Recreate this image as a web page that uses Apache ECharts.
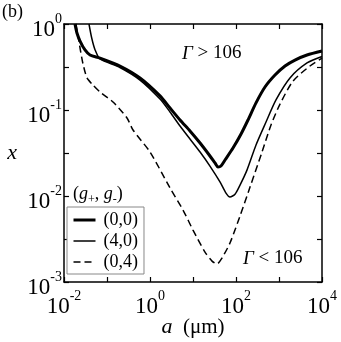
<!DOCTYPE html>
<html>
<head>
<meta charset="utf-8">
<script src="https://cdn.jsdelivr.net/npm/echarts@6/dist/echarts.min.js"></script>
<style>
html, body { margin: 0; padding: 0; background: #fff; }
#main { width: 341px; height: 342px; }
</style>
</head>
<body>
<div id="main"></div>
<script>
// a (um) against x, one pair of arrays per (g+, g-)
var a00 = [0.018, 0.020, 0.0236, 0.0308, 0.0403, 0.0687, 0.200, 0.585, 1.71, 2.92, 4.99, 8.51, 14.6, 24.8, 32.5, 38.1, 44.7, 55.5, 85.1, 131, 190, 292, 472, 807, 1380, 2355, 4480, 10000];
var x00 = [1.0, 0.785, 0.634, 0.499, 0.436, 0.402, 0.325, 0.236, 0.146, 0.1055, 0.0765, 0.057, 0.0413, 0.0292, 0.0242, 0.0217, 0.0223, 0.0262, 0.0361, 0.0526, 0.0765, 0.121, 0.185, 0.255, 0.325, 0.381, 0.436, 0.485];

var a40 = [0.0381, 0.0441, 0.0526, 0.0687, 0.200, 0.585, 1.71, 2.92, 4.99, 8.51, 14.6, 24.8, 42.4, 58.5, 72.4, 94.8, 124, 180, 292, 499, 851, 1800, 4480, 10000];
var x40 = [1.0, 0.687, 0.503, 0.392, 0.312, 0.223, 0.134, 0.0948, 0.0652, 0.046, 0.0325, 0.0223, 0.0146, 0.0108, 0.00973, 0.0105, 0.0134, 0.0200, 0.0392, 0.0725, 0.131, 0.236, 0.352, 0.419];

var a04 = [0.019, 0.0212, 0.0236, 0.0277, 0.0343, 0.0472, 0.0687, 0.138, 0.292, 0.403, 1.0, 2.92, 5.85, 10.0, 19.0, 27.7, 36.1, 47.2, 72.4, 124, 212, 403, 652, 1055, 2120, 5260, 10000];
var x04 = [1.0, 0.725, 0.526, 0.343, 0.236, 0.195, 0.162, 0.124, 0.0807, 0.0585, 0.0325, 0.0124, 0.00687, 0.00402, 0.00223, 0.00175, 0.00162, 0.0019, 0.00284, 0.00585, 0.0127, 0.0325, 0.067, 0.117, 0.217, 0.325, 0.402];

var names = ['(0,0)', '(4,0)', '(0,4)'];
var xLabelPowers = [-2, 0, 2, 4];
var yLabelPowers = [-3, -2, -1, 0];

var serif = 'Liberation Serif';

function pairs(a, x) {
  return a.map(function (v, i) { return [v, x[i]]; });
}

function expLabel(list) {
  return function (value) {
    var l = Math.log10(value);
    var e = Math.round(l);
    if (Math.abs(l - e) > 1e-6 || list.indexOf(e) < 0) return '';
    return '{b|10}{s|' + e + '}';
  };
}

// superscript: the padding under the small token lifts it above the "10"
var labelRich = {
  b: { fontFamily: serif, fontSize: 23, lineHeight: 22, color: '#000' },
  s: { fontFamily: serif, fontSize: 14, lineHeight: 12, padding: [0, 0, 22, 0], color: '#000' }
};

var axisLine = { show: true, lineStyle: { color: '#000', width: 1.5 } };
var tick = { show: true, inside: true, length: 5, lineStyle: { color: '#000', width: 1.2 } };

var chart = echarts.init(document.getElementById('main'));
chart.setOption({
  animation: false,
  backgroundColor: '#fff',
  grid: { left: 64, right: 19, top: 24, bottom: 60, outerBoundsMode: 'none' },
  xAxis: [{
    type: 'log', logBase: 10, min: 0.01, max: 10000,
    axisLine: axisLine, axisTick: tick, splitLine: { show: false },
    axisLabel: { formatter: expLabel(xLabelPowers), margin: 14, rich: labelRich },
    name: '{i|a}  (μm)', nameLocation: 'middle', nameGap: 34, nameMoveOverlap: false,
    nameTextStyle: {
      fontFamily: serif, fontSize: 21, color: '#000',
      rich: { i: { fontFamily: serif, fontSize: 22, fontStyle: 'italic', color: '#000' } }
    }
  }, {
    type: 'log', logBase: 10, min: 0.01, max: 10000, position: 'top',
    axisLine: axisLine, axisTick: tick, splitLine: { show: false }, axisLabel: { show: false }
  }],
  yAxis: [{
    type: 'log', logBase: Math.sqrt(10), min: 0.001, max: 1,
    axisLine: axisLine, axisTick: tick, splitLine: { show: false },
    axisLabel: { formatter: expLabel(yLabelPowers), margin: 2, padding: [12, 0, 0, 0], rich: labelRich },
    name: 'x', nameLocation: 'middle', nameRotate: 0, nameGap: 47, nameMoveOverlap: false,
    nameTextStyle: { fontFamily: serif, fontSize: 22, fontStyle: 'italic', color: '#000' }
  }, {
    type: 'log', logBase: Math.sqrt(10), min: 0.001, max: 1, position: 'right',
    axisLine: axisLine, axisTick: tick, splitLine: { show: false }, axisLabel: { show: false }
  }],
  legend: {
    data: [
      { name: names[0], lineStyle: { width: 3 } },
      { name: names[1], lineStyle: { width: 1.5 } },
      { name: names[2], lineStyle: { width: 1.5 } }
    ],
    orient: 'vertical', left: 67, top: 207,
    padding: [3, 6, 2, 5], itemWidth: 22, itemHeight: 14, itemGap: 1,
    borderColor: '#888', borderWidth: 1, backgroundColor: '#fff',
    itemStyle: { color: 'rgba(0,0,0,0)', borderWidth: 0, opacity: 0 },
    textStyle: { fontFamily: serif, fontSize: 18, color: '#000', lineHeight: 20, padding: [0, 0, 0, 3] }
  },
  graphic: [
    { type: 'text', left: 2, top: 3, style: { text: '(b)', font: '18px "Liberation Serif"', fill: '#000' } },
    { type: 'text', left: 73, top: 182, style: {
      text: '({i|g}{u|+}, {i|g}{u|-})',
      font: '18px "Liberation Serif"', fill: '#000',
      rich: {
        i: { fontFamily: serif, fontSize: 18, fontStyle: 'italic', lineHeight: 20 },
        u: { fontFamily: serif, fontSize: 12, lineHeight: 12, padding: [12, 0, 0, 0] }
      }
    } },
    { type: 'text', left: 182, top: 44, style: {
      text: '{i|Γ} > 106', font: '19px "Liberation Serif"', fill: '#000',
      rich: { i: { fontFamily: serif, fontSize: 19, fontStyle: 'italic' } }
    } },
    { type: 'text', left: 243, top: 249, style: {
      text: '{i|Γ} < 106', font: '19px "Liberation Serif"', fill: '#000',
      rich: { i: { fontFamily: serif, fontSize: 19, fontStyle: 'italic' } }
    } }
  ],
  series: [{
    name: names[0], type: 'line', data: pairs(a00, x00), symbol: 'none', smooth: 0.25,
    lineStyle: { color: '#000', width: 3 }, itemStyle: { color: '#000' }, z: 3
  }, {
    name: names[1], type: 'line', data: pairs(a40, x40), symbol: 'none', smooth: 0.25,
    lineStyle: { color: '#000', width: 1.5 }, itemStyle: { color: '#000' }
  }, {
    name: names[2], type: 'line', data: pairs(a04, x04), symbol: 'none', smooth: 0.25,
    lineStyle: { color: '#000', width: 1.5, type: [7, 4] }, itemStyle: { color: '#000' }
  }]
});
</script>
</body>
</html>
